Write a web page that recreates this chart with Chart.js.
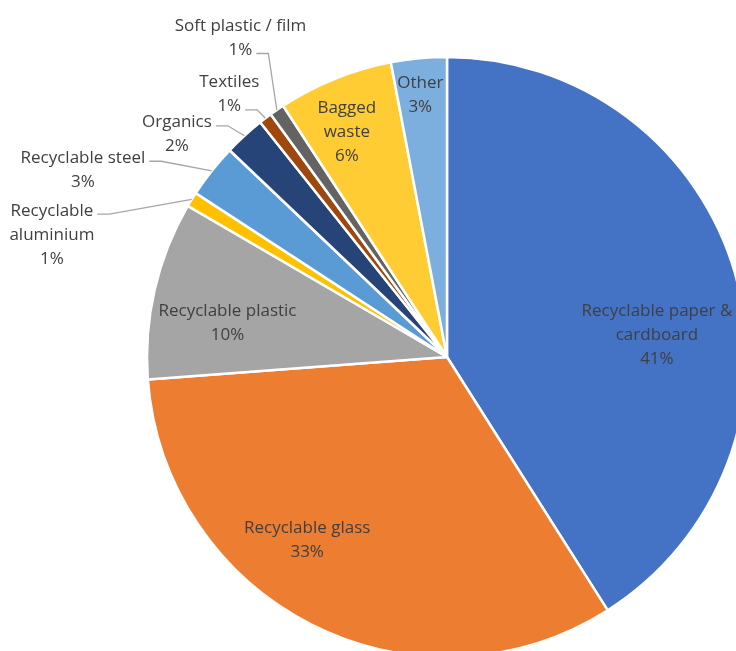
<!DOCTYPE html>
<html lang="en">
<head>
  <meta charset="UTF-8">
  <title>Waste composition</title>
  <script src="https://cdn.jsdelivr.net/npm/chart.js"></script>
  <style>
    html, body {
      margin: 0;
      padding: 0;
      background: #ffffff;
      overflow: hidden;
    }
    #wrap {
      position: absolute;
      left: 0;
      top: 0;
      width: 894px;
      height: 714px;
    }
  </style>
</head>
<body>
  <div id="wrap"><canvas id="pie" width="894" height="714"></canvas></div>

  <script>
    const categories = ['Recyclable paper & cardboard', 'Recyclable glass', 'Recyclable plastic',
      'Recyclable aluminium', 'Recyclable steel', 'Organics', 'Textiles', 'Soft plastic / film',
      'Bagged waste', 'Other'];
    const shares = [41.0, 32.8, 9.6, 0.8, 2.9, 2.2, 0.7, 0.8, 6.2, 3.0];

    const colors = ['#4472C4', '#ED7D31', '#A5A5A5', '#FFC000', '#5B9BD5',
      '#264478', '#9E480E', '#636363', '#FFCD33', '#7CAFDD'];

    // label text, broken the way the original breaks it (percentage goes underneath)
    const labelLines = [['Recyclable paper &', 'cardboard'], ['Recyclable glass'], ['Recyclable plastic'],
      ['Recyclable', 'aluminium'], ['Recyclable steel'], ['Organics'], ['Textiles'],
      ['Soft plastic / film'], ['Bagged', 'waste'], ['Other']];

    // where each label sits: angle clockwise from 12 o'clock, distance in pie radii
    const labelAngle = [83.6, 217.6, 279.1, 287.4, 297.4, 309.7, 320.5, 327.2, 336.1, 354.2];
    const labelDist = [0.704, 0.764, 0.741, 1.380, 1.367, 1.170, 1.141, 1.271, 0.824, 0.881];
    // outside labels: which text line the leader line starts from
    const leaderFrom = [null, null, null, 0, 0, 0, 1, 1, null, null];

    const lineH = 24;

    const sliceLabels = {
      id: 'sliceLabels',
      afterDatasetsDraw(chart) {
        const ctx = chart.ctx;
        const arcs = chart.getDatasetMeta(0).data;
        const total = shares.reduce((a, b) => a + b, 0);
        ctx.save();
        ctx.font = '17px "Open Sans", sans-serif';
        ctx.fillStyle = '#404040';
        ctx.strokeStyle = '#A6A6A6';
        ctx.lineWidth = 1.3;
        ctx.textAlign = 'center';
        ctx.textBaseline = 'middle';
        arcs.forEach((arc, i) => {
          const p = arc.getProps(['x', 'y', 'outerRadius', 'startAngle', 'endAngle'], true);
          const lines = labelLines[i].concat(Math.round(shares[i] / total * 100) + '%');
          const a = labelAngle[i] * Math.PI / 180;
          const cx = p.x + Math.sin(a) * p.outerRadius * labelDist[i];
          const cy = p.y - Math.cos(a) * p.outerRadius * labelDist[i];
          const top = cy - (lines.length - 1) * lineH / 2;
          lines.forEach((t, k) => ctx.fillText(t, cx, top + k * lineH + 1.5));

          if (leaderFrom[i] !== null) {
            const k = leaderFrom[i];
            const ly = top + k * lineH + 5;
            const lx = cx + ctx.measureText(lines[k]).width / 2 + 4;
            const mid = (p.startAngle + p.endAngle) / 2;
            const ex = p.x + Math.cos(mid) * p.outerRadius;
            const ey = p.y + Math.sin(mid) * p.outerRadius;
            ctx.beginPath();
            ctx.moveTo(lx, ly);
            ctx.lineTo(lx + 12, ly);
            ctx.lineTo(ex, ey);
            ctx.stroke();
          }
        });
        ctx.restore();
      }
    };

    new Chart(document.getElementById('pie'), {
      type: 'pie',
      data: {
        labels: categories,
        datasets: [{
          data: shares,
          backgroundColor: colors,
          borderColor: '#ffffff',
          borderWidth: 2.5
        }]
      },
      options: {
        responsive: false,
        animation: false,
        radius: 300,
        layout: { padding: 0 },
        plugins: {
          legend: { display: false },
          tooltip: { enabled: false }
        }
      },
      plugins: [sliceLabels]
    });
  </script>
</body>
</html>
